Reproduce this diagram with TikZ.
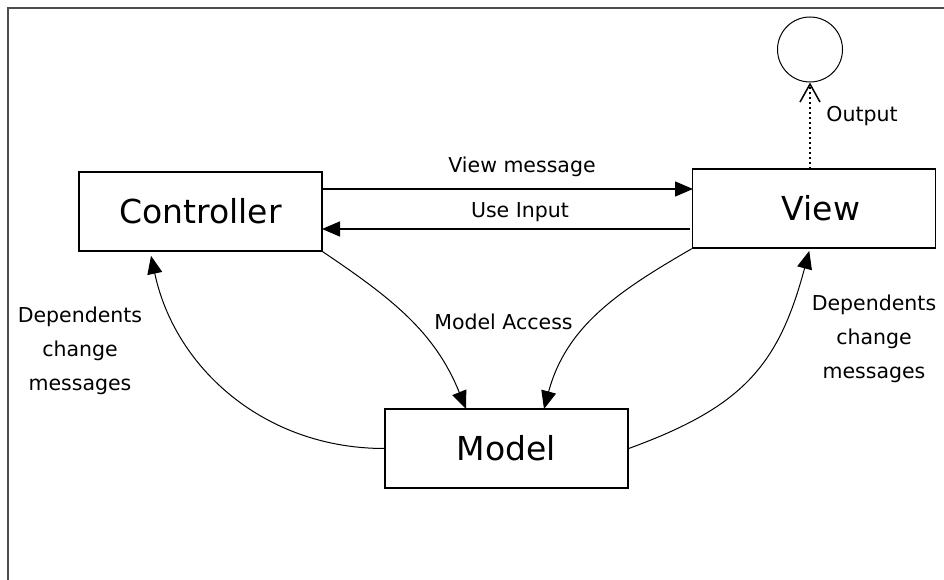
\documentclass[tikz,border=0pt]{standalone}
\usepackage{fontspec}
\setmainfont{DejaVu Sans}
\usetikzlibrary{arrows.meta,calc}
\begin{document}
\begin{tikzpicture}[x=1pt,y=1pt,
  box/.style={draw, line width=1.4pt, minimum width=243pt, minimum height=79pt,
    inner sep=0pt, font=\fontsize{33}{40}\selectfont},
  lbl/.style={font=\fontsize{20.5}{34}\selectfont, align=center, inner sep=0pt},
  msg/.style={line width=1.4pt, -{Triangle[length=18pt,width=15pt]}},
  curve/.style={line width=1pt, -{Triangle[length=18pt,width=15pt]}},
  outarrow/.style={line width=1.5pt, dash pattern=on 2pt off 3pt,
    -{Straight Barb[length=18pt,width=20pt]}},
  frame/.style={line width=1.5pt, draw=black!70}]
\useasboundingbox (0,0) rectangle (944,580);
\fill[white] (0,0) rectangle (944,580);
% outer frame (top and left edges)
\draw[frame] (8,0) -- (8,572) -- (944,572);

% main components
\node[box] (controller) at (200.5,368.5) {Controller};
\node[box] (view) at (814,371.5) {\hspace{14pt}View};
\node[box] (model) at (506.5,131.5) {Model};
\node[circle, draw, line width=1pt, minimum size=65pt, inner sep=0pt] (out) at (810,530.5) {};

% anchor points on the box edges
\coordinate (vmsgA) at (322,391);
\coordinate (vmsgB) at (693,391);
\coordinate (inA) at (690,351);
\coordinate (inB) at (322,351);
\coordinate (cDep) at (150,329);
\coordinate (vDep) at (810,332);
\coordinate (mAccL) at (466,171);
\coordinate (mAccR) at (544,171);
\coordinate (vOut) at (810,411);

% messages between controller and view
\draw[msg] (vmsgA) -- (vmsgB);
\draw[msg] (inA) -- (inB);
\node[lbl] (lvmsg) at (522,413) {View message};
\node[lbl] (lin) at (520,368) {Use Input};

% view output
\draw[outarrow] (vOut) -- (out.south);
\node[lbl] (lout) at (862,464) {Output};

% model access
\draw[curve] (controller.south east) to[out=-34, in=112] (mAccL);
\draw[curve] (view.south west) to[out=210, in=75] (mAccR);
\node[lbl] (lacc) at (503.5,258) {Model Access};

% dependents change messages
\draw[curve, shorten >=5pt] (model.west) to[out=180, in=-78] (cDep);
\draw[curve, shorten >=3pt] (model.east) to[out=20, in=-105, looseness=1.15] (vDep);
\node[lbl] (ldepL) at (80,229) {Dependents\\change\\messages};
\node[lbl] (ldepR) at (874,241) {Dependents\\change\\messages};
\end{tikzpicture}
\end{document}
